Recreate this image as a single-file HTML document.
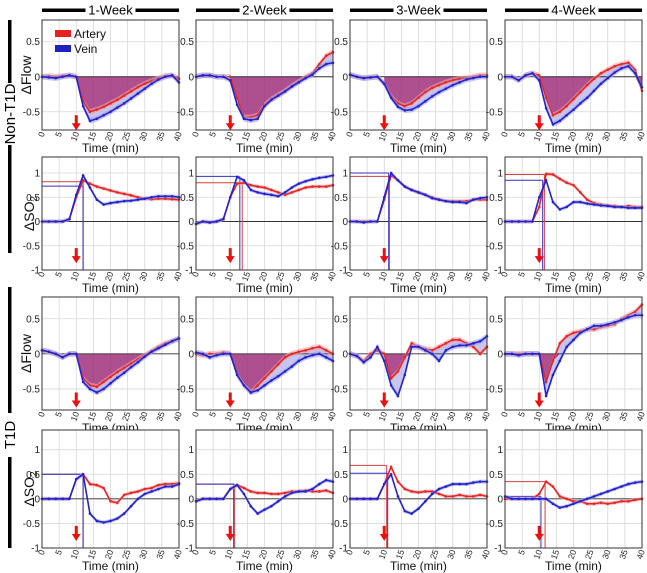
<!DOCTYPE html>
<html><head><meta charset="utf-8"><style>
body{margin:0;background:#fff;}
svg{display:block;font-family:"Liberation Sans",sans-serif;}
</style></head><body>
<svg id="fig" width="647" height="573" viewBox="0 0 647 573" xmlns="http://www.w3.org/2000/svg"></svg>
<script>
// ---- data (t = 0,2,...,40 min) ----
const times=[0,2,4,6,8,10,12,14,16,18,20,22,24,26,28,30,32,34,36,38,40];
const colLabels=["1-Week","2-Week","3-Week","4-Week"];
const flowTicks=[-0.5,0,0.5];
const so2Ticks=[-1,-0.5,0,0.5,1];
const xTicks=[0,5,10,15,20,25,30,35,40];
// Non-T1D flow
const nf_A1=[0,0.01,0,0.01,0.02,0,-0.35,-0.5,-0.47,-0.43,-0.38,-0.33,-0.27,-0.21,-0.15,-0.1,-0.06,-0.02,0.01,0.02,-0.03];
const nf_V1=[0,-0.01,-0.02,0,0.02,0,-0.42,-0.63,-0.6,-0.55,-0.5,-0.44,-0.38,-0.31,-0.24,-0.17,-0.1,-0.04,0,0.02,-0.08];
const nf_A2=[0,0.02,0.02,0,0,0,-0.3,-0.58,-0.58,-0.55,-0.4,-0.32,-0.26,-0.2,-0.13,-0.07,0,0.05,0.18,0.3,0.35];
const nf_V2=[0,0.02,0.02,0,0,-0.05,-0.4,-0.6,-0.62,-0.6,-0.42,-0.33,-0.27,-0.21,-0.14,-0.08,-0.02,0.03,0.12,0.18,0.2];
const nf_A3=[0.03,0,-0.02,-0.01,0,-0.1,-0.28,-0.38,-0.42,-0.38,-0.3,-0.22,-0.16,-0.12,-0.08,-0.05,-0.03,-0.02,0,0.02,0.02];
const nf_V3=[0.03,0,-0.02,-0.01,0,-0.1,-0.3,-0.43,-0.48,-0.47,-0.42,-0.35,-0.28,-0.22,-0.17,-0.12,-0.08,-0.04,-0.02,0,0];
const nf_A4=[0,0,-0.05,0.02,0.05,0.02,-0.3,-0.55,-0.5,-0.42,-0.32,-0.22,-0.12,-0.03,0.05,0.1,0.15,0.18,0.2,0.1,-0.2];
const nf_V4=[0,0,-0.05,0.02,0.05,-0.05,-0.45,-0.68,-0.63,-0.55,-0.47,-0.38,-0.3,-0.2,-0.1,-0.02,0.06,0.12,0.15,0.05,-0.15];
// Non-T1D SO2
const ns_A1=[0,0,0,0,0.05,0.5,0.85,0.78,0.72,0.68,0.64,0.6,0.57,0.54,0.5,0.47,0.46,0.47,0.47,0.46,0.45];
const ns_V1=[0,0,0,0,0.05,0.55,0.95,0.7,0.45,0.35,0.38,0.4,0.42,0.43,0.45,0.47,0.5,0.52,0.52,0.52,0.5];
const ns_A2=[-0.05,0,-0.02,0,0.05,0.5,0.78,0.8,0.75,0.72,0.7,0.65,0.6,0.55,0.6,0.65,0.7,0.72,0.72,0.72,0.75];
const ns_V2=[-0.05,0,-0.02,0,0.05,0.5,0.92,0.85,0.65,0.6,0.57,0.55,0.52,0.6,0.7,0.78,0.83,0.87,0.9,0.92,0.95];
const ns_A3=[0,0,0,0,0,0.45,0.95,0.85,0.72,0.65,0.6,0.55,0.5,0.45,0.42,0.42,0.42,0.42,0.45,0.45,0.45];
const ns_V3=[0,0,-0.02,0,0,0.5,1,0.85,0.72,0.65,0.6,0.55,0.48,0.45,0.42,0.4,0.4,0.38,0.45,0.48,0.5];
const ns_A4=[0,0,0,0,0,0.3,0.98,0.97,0.88,0.8,0.75,0.6,0.45,0.38,0.35,0.33,0.32,0.3,0.32,0.3,0.3];
const ns_V4=[0,0,0,0,0,0.5,0.85,0.4,0.25,0.3,0.4,0.4,0.37,0.35,0.33,0.32,0.3,0.3,0.28,0.28,0.28];
// T1D flow
const tf_A1=[0.05,0.03,0,-0.05,0,0,-0.35,-0.45,-0.47,-0.4,-0.33,-0.26,-0.2,-0.14,-0.08,-0.02,0.04,0.1,0.15,0.18,0.22];
const tf_V1=[0.05,0.03,0,-0.05,0,0,-0.4,-0.5,-0.55,-0.5,-0.42,-0.34,-0.27,-0.19,-0.12,-0.04,0.03,0.08,0.13,0.18,0.22];
const tf_A2=[0,-0.02,0,0,0.02,0,-0.3,-0.45,-0.55,-0.45,-0.35,-0.25,-0.15,-0.05,0,0.03,0.05,0.08,0.1,0.05,0];
const tf_V2=[0.02,0,-0.05,-0.02,0,0,-0.3,-0.45,-0.55,-0.52,-0.45,-0.38,-0.32,-0.25,-0.18,-0.1,-0.05,-0.02,0,-0.05,-0.1];
const tf_A3=[0,-0.03,-0.1,0,0.05,0,-0.35,-0.25,-0.05,0.15,0.1,0.07,0.05,0.1,0.15,0.2,0.2,0.15,0.1,0,0.1];
const tf_V3=[0,-0.03,-0.12,-0.05,0.1,-0.1,-0.45,-0.6,-0.3,0.1,0.1,0.05,0,-0.1,0.05,0.1,0.12,0.12,0.15,0.18,0.25];
const tf_A4=[0,0,0,0,0,0,-0.4,-0.1,0.15,0.25,0.3,0.32,0.35,0.35,0.38,0.4,0.42,0.5,0.55,0.6,0.7];
const tf_V4=[0,0,-0.02,0,0,0,-0.6,-0.3,-0.1,0.1,0.2,0.3,0.35,0.4,0.4,0.42,0.45,0.48,0.52,0.55,0.55];
// T1D SO2
const ts_A1=[0,0,0,0,0,0.4,0.5,0.3,0.28,0.22,-0.05,-0.08,0.08,0.12,0.15,0.2,0.22,0.28,0.3,0.3,0.32];
const ts_V1=[0,0,0,0,0,0.4,0.5,-0.3,-0.45,-0.48,-0.45,-0.4,-0.3,-0.15,0,0.1,0.15,0.2,0.25,0.25,0.3];
const ts_A2=[-0.05,0,0,0,0,0.2,0.28,0.22,0.15,0.12,0.12,0.1,0.1,0.12,0.15,0.15,0.17,0.15,0.15,0.17,0.12];
const ts_V2=[-0.05,0,0,0,0,0.2,0.28,0.1,-0.15,-0.3,-0.22,-0.15,-0.05,0.05,0.12,0.15,0.15,0.2,0.3,0.38,0.35];
const ts_A3=[0,0,0,0,0,0.3,0.65,0.35,0.2,0.15,0.13,0.15,0.15,0.1,0.05,0.05,0.08,0.05,0.05,0.08,0.05];
const ts_V3=[0,0,0,0,0,0.3,0.5,0.05,-0.25,-0.3,-0.2,-0.05,0.1,0.2,0.25,0.3,0.3,0.3,0.33,0.35,0.35];
const ts_A4=[0,0,0,0,0,0.1,0.35,0.25,0.05,0,-0.05,-0.05,-0.1,-0.1,-0.08,-0.1,-0.08,-0.05,-0.05,-0.02,0];
const ts_V4=[0.05,0,0,0,0,0,0,-0.1,-0.18,-0.15,-0.1,-0.05,0,0.05,0.1,0.15,0.2,0.25,0.3,0.33,0.35];
// SO2 peak markers: [artery level, artery time, vein level, vein time]
const so2PeakN=[[0.82,12,0.73,12],[0.8,13.5,0.93,12.8],[0.93,11.5,1.0,11.3],[0.97,11.5,0.85,11]];
const so2PeakT=[[0.5,12,0.5,12],[0.3,11.3,0.3,11],[0.68,10.7,0.52,11],[0.35,11.7,0.05,10.5]];

const rows=[
 {type:"flow",top:20,bot:130,ymin:-0.76,ymax:0.81,A:[nf_A1,nf_A2,nf_A3,nf_A4],V:[nf_V1,nf_V2,nf_V3,nf_V4]},
 {type:"so2",top:157,bot:270,ymin:-1,ymax:1.33,A:[ns_A1,ns_A2,ns_A3,ns_A4],V:[ns_V1,ns_V2,ns_V3,ns_V4],pk:so2PeakN},
 {type:"flow",top:297,bot:410,ymin:-0.8,ymax:0.81,A:[tf_A1,tf_A2,tf_A3,tf_A4],V:[tf_V1,tf_V2,tf_V3,tf_V4]},
 {type:"so2",top:430,bot:548,ymin:-1,ymax:1.4,A:[ts_A1,ts_A2,ts_A3,ts_A4],V:[ts_V1,ts_V2,ts_V3,ts_V4],pk:so2PeakT}
];
const lefts=[42,196,350,505], W=137;
const NS="http://www.w3.org/2000/svg", svg=document.getElementById("fig");
function mk(tag,at,parent){const e=document.createElementNS(NS,tag);for(const k in at)e.setAttribute(k,at[k]);(parent||svg).appendChild(e);return e;}

rows.forEach((r,ri)=>{
 lefts.forEach((L,ci)=>{
  const g=mk("g",{});
  
  
  const xs=t=>L+t/40*W, ys=v=>r.top+(r.ymax-v)/(r.ymax-r.ymin)*(r.bot-r.top);
  mk("rect",{x:L,y:r.top,width:W,height:r.bot-r.top,fill:"#fff"},g);
  xTicks.forEach(t=>mk("line",{x1:xs(t),x2:xs(t),y1:r.top,y2:r.bot,stroke:"#d8d8d8","stroke-width":0.8},g));
  const yt=r.type=="flow"?flowTicks:so2Ticks;
  yt.forEach(v=>{mk("line",{x1:L,x2:L+W,y1:ys(v),y2:ys(v),stroke:"#d8d8d8","stroke-width":0.8},g);
   const tx=mk("text",{x:L-2,y:ys(v)+3.5,"text-anchor":"end","font-size":10,fill:"#222"},g);tx.textContent=String(v);
   });
  const A=r.A[ci],V=r.V[ci];
  if(r.type=="flow"){
   let p="M"+times.map((t,i)=>xs(t)+","+ys(A[i])).join("L")+"L"+times.slice().reverse().map((t,j)=>xs(t)+","+ys(V[V.length-1-j])).join("L")+"Z";
   const b=mk("path",{d:p,fill:"#b8b8ee",opacity:0.8},g);
   
   let fp="M"+xs(10)+","+ys(0);times.forEach((t,i)=>{if(t>=10)fp+="L"+xs(t)+","+ys(Math.min(0,A[i]));});fp+="L"+xs(40)+","+ys(0)+"Z";
   const f=mk("path",{d:fp,fill:"#a0307c",opacity:0.85},g);
   
  }
  mk("line",{x1:L,x2:L+W,y1:ys(0),y2:ys(0),stroke:"#333","stroke-width":0.9},g);
  if(r.pk){const k=r.pk[ci];
   [[k[0],k[1],"#d04040"],[k[2],k[3],"#3030c0"]].forEach(([lv,tt,c])=>{
    mk("line",{x1:L,x2:xs(tt),y1:ys(lv),y2:ys(lv),stroke:c,"stroke-width":1},g);
    mk("line",{x1:xs(tt),x2:xs(tt),y1:ys(lv),y2:r.bot,stroke:c,"stroke-width":1},g);});
  }
  [[A,"#e02828","#f4a0a0","artery-line"],[V,"#2323c8","#a0a0ee","vein-line"]].forEach(([d,c,lc,nm])=>{
   const up=times.map((t,i)=>xs(t)+","+ys(d[i]+0.04)).join("L"), dn=times.slice().reverse().map((t,j)=>xs(t)+","+ys(d[d.length-1-j]-0.04)).join("L");
   mk("path",{d:"M"+up+"L"+dn+"Z",fill:lc,opacity:0.6},g);
   const pl=mk("polyline",{points:times.map((t,i)=>xs(t)+","+ys(d[i])).join(" "),fill:"none",stroke:c,"stroke-width":1.6},g);
   
   times.forEach((t,i)=>mk("circle",{cx:xs(t),cy:ys(d[i]),r:1.3,fill:c},g));
  });
  mk("rect",{x:L,y:r.top,width:W,height:r.bot-r.top,fill:"none",stroke:"#333","stroke-width":1},g);
  const ay=ys(-0.55);
  const ar=mk("path",{d:`M${xs(10)-1.5},${ay} h3 v8 h3 l-4.5,7 l-4.5,-7 h3 z`,fill:"#e81010"},g);
  
  xTicks.forEach(t=>{const tx=mk("text",{x:0,y:0,"text-anchor":"end","font-size":8.5,fill:"#222",transform:`translate(${xs(t)+3},${r.bot+3}) rotate(-70)`},g);tx.textContent=t;
   });
  const xt=mk("text",{x:L+W/2,y:r.bot+22,"text-anchor":"middle","font-size":12,fill:"#111"},g);xt.textContent="Time (min)";
  
 });
 const cy=(r.top+r.bot)/2;
 const yl=mk("text",{x:0,y:0,"text-anchor":"middle","font-size":14,fill:"#111",transform:`translate(${r.type=="flow"?31:34},${cy}) rotate(-90)`});
 
 if(r.type=="flow")yl.textContent="\u0394Flow";else yl.innerHTML='\u0394SO<tspan font-size="10" dy="3">2</tspan>';
});
// column headers
lefts.forEach((L,i)=>{
 mk("rect",{x:L,y:8.5,width:W,height:3.5,fill:"#000"});
 mk("rect",{x:L+W/2-25,y:2,width:50,height:14,fill:"#fff"});
 const t=mk("text",{x:L+W/2,y:14.5,"text-anchor":"middle","font-size":13,fill:"#000"});t.textContent=colLabels[i];
 
});
// group labels
[["Non-T1D",114,20,83,145,253],["T1D",435,287,413,457,548]].forEach(([s,c,a1,a2,b1,b2])=>{
 mk("rect",{x:8,y:a1,width:3.5,height:a2-a1,fill:"#000"});
 mk("rect",{x:8,y:b1,width:3.5,height:b2-b1,fill:"#000"});
 const t=mk("text",{x:0,y:0,"text-anchor":"middle","font-size":15,fill:"#000",transform:`translate(15,${c}) rotate(-90)`});t.textContent=s;
 
});
// legend
const lg=mk("g",{});


mk("rect",{x:55,y:30,width:16,height:7,fill:"#e82020"},lg);
mk("rect",{x:55,y:45,width:16,height:7,fill:"#2020c0"},lg);
const l1=mk("text",{x:74,y:38,"font-size":12,fill:"#111"},lg);l1.textContent="Artery";
const l2=mk("text",{x:74,y:53,"font-size":12,fill:"#111"},lg);l2.textContent="Vein";
</script>
</body></html>
